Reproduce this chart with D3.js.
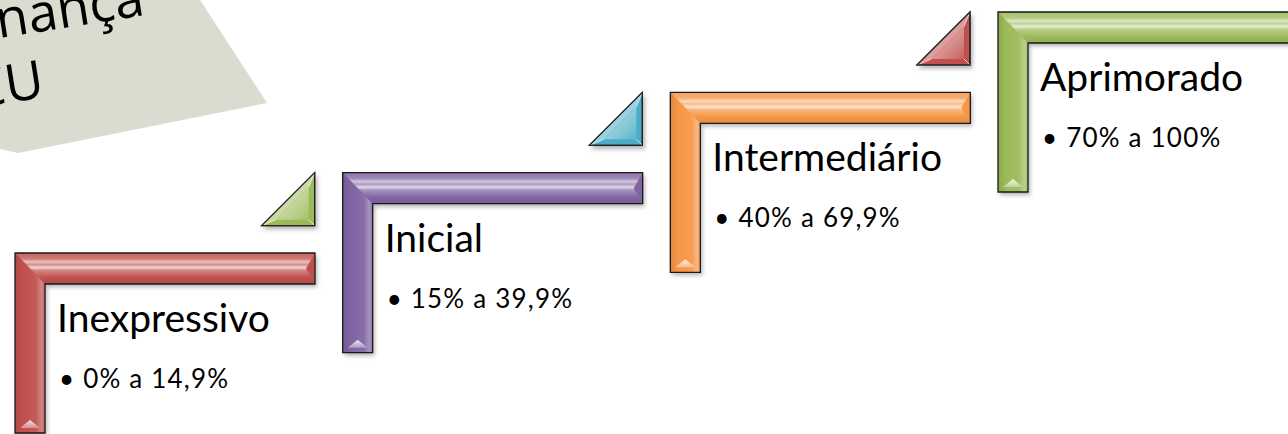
<!DOCTYPE html>
<html>
<head>
<meta charset="utf-8">
<script src="https://cdn.jsdelivr.net/npm/d3@7"></script>
<style>
  html, body { margin: 0; padding: 0; background: #fff; overflow: hidden; }
  svg { display: block; }
</style>
</head>
<body>
<div id="chart"></div>
<script>
// levels of the step-up diagram
var levels = ["Inexpressivo", "Inicial", "Intermediário", "Aprimorado"];
var ranges = ["0% a 14,9%", "15% a 39,9%", "40% a 69,9%", "70% a 100%"];
var stepColors = ["#C0504D", "#8064A2", "#F79646", "#9BBB59"];
// small triangle in front of each step (none for the first one)
var arrowColors = [null, "#9BBB59", "#4BACC6", "#C0504D"];
// partly visible title on the paper behind
var paperLines = ["Governança", "TCU"];

var w = 1288, h = 434;
var W = 300, barH = 31, barV = 30, H = 180, tri = 53;

var svg = d3.select("#chart").append("svg")
  .attr("width", w).attr("height", h);
var defs = svg.append("defs");

var x = d3.scalePoint().domain(levels).range([15, 998]);
var y = d3.scalePoint().domain(levels).range([253, 12]);

function mix(c, t) { return d3.interpolateRgb(c, "#fff")(t); }
function dark(c, t) { return d3.interpolateRgb(c, "#000")(t); }

var f = defs.append("filter").attr("id", "shadow")
  .attr("x", "-10%").attr("y", "-10%").attr("width", "130%").attr("height", "130%");
f.append("feDropShadow").attr("dx", 2).attr("dy", 3).attr("stdDeviation", 2)
  .attr("flood-color", "#000").attr("flood-opacity", 0.3);

// paper in the back
var paper = svg.append("g");
paper.append("polygon")
  .attr("points", "0,0 200,0 267,103 18,153 0,149")
  .attr("fill", "#D8DDD0");
paper.selectAll("text").data(paperLines).enter().append("text")
  .attr("transform", function(d, i) {
    return i == 0 ? "translate(146,15) rotate(-9)" : "translate(46,97) rotate(-9)";
  })
  .attr("text-anchor", "end")
  .attr("font-family", "'Open Sans', sans-serif")
  .attr("font-size", 53)
  .attr("fill", "#000")
  .text(function(d) { return d; });

// gradients
stepColors.forEach(function(c, i) {
  var gh = defs.append("linearGradient").attr("id", "gh" + i)
    .attr("x1", 0).attr("y1", 0).attr("x2", 0).attr("y2", 1);
  [[0, mix(c, .1)], [.18, mix(c, .22)], [.29, mix(c, .65)], [.37, mix(c, .35)],
   [.47, mix(c, .75)], [.56, mix(c, .3)], [.8, c], [1, dark(c, .08)]]
    .forEach(function(s) { gh.append("stop").attr("offset", s[0]).attr("stop-color", s[1]); });
  var gv = defs.append("linearGradient").attr("id", "gv" + i)
    .attr("x1", 0).attr("y1", 0).attr("x2", 1).attr("y2", 0);
  [[0, dark(c, .1)], [.25, c], [.7, mix(c, .06)], [.88, mix(c, .3)], [1, mix(c, .12)]]
    .forEach(function(s) { gv.append("stop").attr("offset", s[0]).attr("stop-color", s[1]); });
  var gb = defs.append("linearGradient").attr("id", "gb" + i)
    .attr("x1", 0).attr("y1", 0).attr("x2", 0).attr("y2", 1);
  gb.append("stop").attr("offset", 0).attr("stop-color", mix(c, .85));
  gb.append("stop").attr("offset", 1).attr("stop-color", mix(c, .35));
});
arrowColors.forEach(function(c, i) {
  if (!c) return;
  var ga = defs.append("linearGradient").attr("id", "ga" + i)
    .attr("x1", 0).attr("y1", 0).attr("x2", 1).attr("y2", 1);
  ga.append("stop").attr("offset", 0).attr("stop-color", mix(c, .6));
  ga.append("stop").attr("offset", .6).attr("stop-color", mix(c, .35));
  ga.append("stop").attr("offset", 1).attr("stop-color", mix(c, .1));
});

var steps = svg.selectAll("g.step").data(levels).enter().append("g")
  .attr("class", "step")
  .attr("transform", function(d) { return "translate(" + x(d) + "," + y(d) + ")"; });

// small triangles
steps.each(function(d, i) {
  var c = arrowColors[i];
  if (!c) return;
  var g = d3.select(this).append("g")
    .attr("transform", "translate(" + (-28 - tri) + ",0)");
  var V = [[0, tri], [tri, 0], [tri, tri]];
  var r = tri * (2 - Math.SQRT2) / 2, I = [tri - r, tri - r], k = (r - 6) / r;
  var inner = V.map(function(p) { return [I[0] + k * (p[0] - I[0]), I[1] + k * (p[1] - I[1])]; });
  g.append("polygon").attr("points", V.join(" "))
    .attr("fill", c).attr("stroke", "#222").attr("stroke-width", 1.2)
    .attr("filter", "url(#shadow)");
  g.append("polygon").attr("points", [V[0], V[1], inner[1], inner[0]].join(" "))
    .attr("fill", mix(c, .45));
  g.append("polygon").attr("points", inner.join(" "))
    .attr("fill", "url(#ga" + i + ")");
  V.forEach(function(p, j) {
    g.append("line").attr("x1", p[0]).attr("y1", p[1])
      .attr("x2", inner[j][0]).attr("y2", inner[j][1])
      .attr("stroke", mix(c, .7)).attr("stroke-width", 1);
  });
  g.append("polygon").attr("points", V.join(" "))
    .attr("fill", "none").attr("stroke", "#222").attr("stroke-width", 1.2);
});

// the L shaped steps
steps.append("path")
  .attr("d", "M0,0H" + W + "V" + barH + "H" + barV + "V" + H + "H0Z")
  .attr("fill", function(d, i) { return stepColors[i]; })
  .attr("filter", "url(#shadow)");
steps.append("path")
  .attr("d", "M0,0H" + W + "V" + barH + "H" + barV + "Z")
  .attr("fill", function(d, i) { return "url(#gh" + i + ")"; });
steps.append("path")
  .attr("d", "M0,0L" + barV + "," + barH + "V" + H + "H0Z")
  .attr("fill", function(d, i) { return "url(#gv" + i + ")"; });
steps.append("path")
  .attr("d", "M" + W + ",0L" + (W - 9) + "," + (barH / 2) + "L" + W + "," + barH + "Z")
  .attr("fill", function(d, i) { return stepColors[i]; });
steps.append("path")
  .attr("d", "M5," + (H - 5) + "L" + (barV / 2) + "," + (H - 13) + "L" + (barV - 5) + "," + (H - 5) + "Z")
  .attr("fill", function(d, i) { return "url(#gb" + i + ")"; });
steps.append("path")
  .attr("d", "M0,0H" + W + "V" + barH + "H" + barV + "V" + H + "H0Z")
  .attr("fill", "none").attr("stroke", "#1a1a1a").attr("stroke-width", 1.3);

steps.append("text")
  .attr("x", 42).attr("y", 79)
  .attr("font-family", "Lato, sans-serif")
  .attr("font-size", 39)
  .attr("fill", "#000")
  .text(function(d) { return d; });
steps.append("text")
  .attr("x", 44).attr("y", 135)
  .attr("font-family", "Lato, sans-serif")
  .attr("font-size", 26)
  .attr("letter-spacing", 1.2)
  .attr("fill", "#000")
  .text(function(d, i) { return "\u2022 " + ranges[i]; });
</script>
</body>
</html>
